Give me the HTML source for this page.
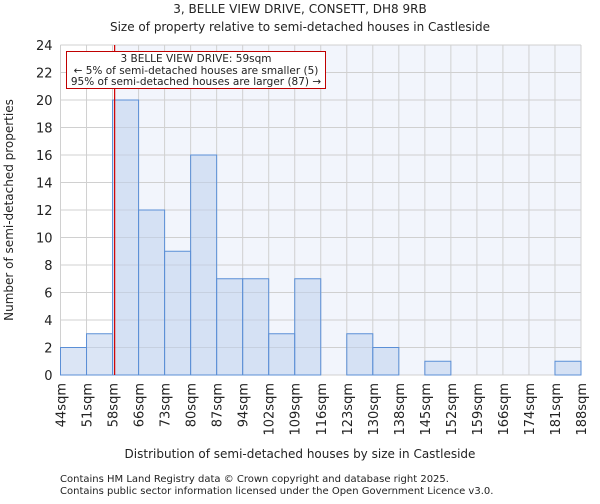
<!DOCTYPE html>
<html><head><meta charset="utf-8"><style>
body{margin:0;background:#fff;font-family:"DejaVu Sans","Liberation Sans",sans-serif;}
svg text{font-family:"DejaVu Sans","Liberation Sans",sans-serif;fill:#222;}
</style></head><body>
<svg id="chart" width="600" height="500" xmlns="http://www.w3.org/2000/svg">
<text x="300" y="13" text-anchor="middle" font-size="12">3, BELLE VIEW DRIVE, CONSETT, DH8 9RB</text>
<text x="300" y="31" text-anchor="middle" font-size="12">Size of property relative to semi-detached houses in Castleside</text>
<g id="plot"></g>
<text x="300" y="458" text-anchor="middle" font-size="12">Distribution of semi-detached houses by size in Castleside</text>
<text transform="translate(13,210) rotate(-90)" text-anchor="middle" font-size="12">Number of semi-detached properties</text>
<text x="60" y="482" font-size="10" fill="#444">Contains HM Land Registry data © Crown copyright and database right 2025.</text>
<text x="60" y="494" font-size="10" fill="#444">Contains public sector information licensed under the Open Government Licence v3.0.</text>
</svg>
<script>
const categories=["44sqm","51sqm","58sqm","66sqm","73sqm","80sqm","87sqm","94sqm","102sqm","109sqm","116sqm","123sqm","130sqm","138sqm","145sqm","152sqm","159sqm","166sqm","174sqm","181sqm","188sqm"];
const counts=[2,3,20,12,9,16,7,7,3,7,0,3,2,0,1,0,0,0,0,1];
const yTicks=[0,2,4,6,8,10,12,14,16,18,20,22,24];
const markerBin=2.08;
const NS="http://www.w3.org/2000/svg";
const L=60.5,R=581,T=45,B=375,yMax=24;
const nb=counts.length,bw=(R-L)/nb;
const x=i=>L+i*bw, y=v=>B-v/yMax*(B-T);
const g=document.getElementById('plot');
function mk(t,a){const e=document.createElementNS(NS,t);for(const k in a)e.setAttribute(k,a[k]);g.appendChild(e);return e;}
const mx=x(markerBin);
let e=mk('rect',{x:mx,y:T,width:R-mx,height:B-T,fill:'#f2f5fc'});


yTicks.forEach(v=>{const l=mk('line',{x1:L,x2:R,y1:y(v),y2:y(v),stroke:'#d0d0d0'});


const t=mk('text',{x:L-8,y:y(v)+5,'text-anchor':'end','font-size':13});t.textContent=v;

});
categories.forEach((c,i)=>{const l=mk('line',{x1:x(i),x2:x(i),y1:T,y2:B,stroke:'#d0d0d0'});


const t=mk('text',{transform:`translate(${x(i)+5},383) rotate(-90)`,'text-anchor':'end','font-size':13});t.textContent=c;

});
counts.forEach((v,i)=>{if(!v)return;const r=mk('rect',{x:x(i),y:y(v),width:bw,height:B-y(v),fill:'rgba(190,207,236,0.55)',stroke:'#5b8fd6','stroke-width':1});

});
e=mk('line',{x1:mx,x2:mx,y1:T,y2:B,stroke:'#d00000','stroke-width':1.2});


e=mk('rect',{x:66.5,y:51.5,width:259,height:37,fill:'#fff',stroke:'#c00000'});


[["3 BELLE VIEW DRIVE: 59sqm",62],["← 5% of semi-detached houses are smaller (5)",74],["95% of semi-detached houses are larger (87) →",85]].forEach(a=>{const t=mk('text',{x:196,y:a[1],'text-anchor':'middle','font-size':10.5});t.textContent=a[0];

});
</script>
</body></html>
